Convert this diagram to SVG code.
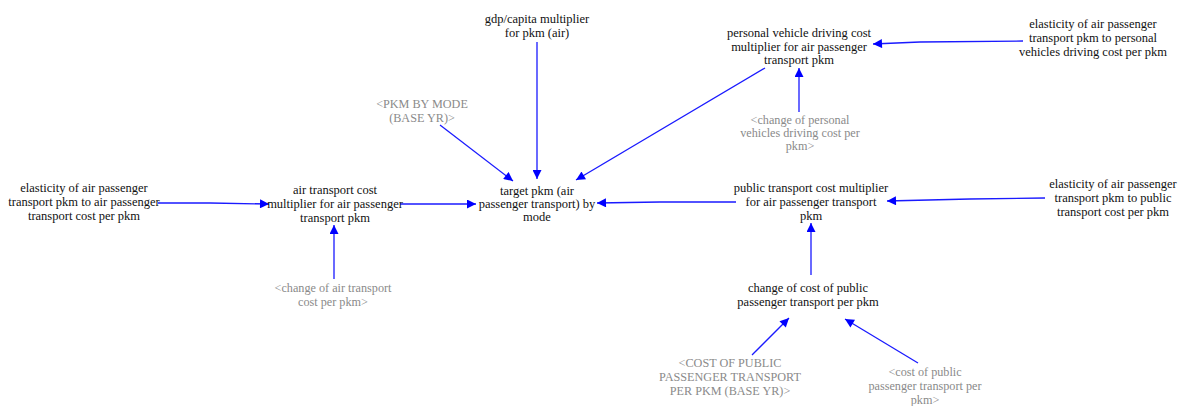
<svg xmlns="http://www.w3.org/2000/svg" width="1184" height="406" viewBox="0 0 1184 406">
  <style>
    .v { font-family: "Liberation Serif", "Times New Roman", serif; font-size: 12.5px; fill: #111; text-anchor: middle; }
    .s { font-family: "Liberation Serif", "Times New Roman", serif; font-size: 12.2px; fill: #8a8a8a; text-anchor: middle; }
    .c { fill: none; stroke: #1a1aff; stroke-width: 1.3; marker-end: url(#ah); }
  </style>
  <defs>
    <marker id="ah" viewBox="0 0 10 10" refX="10" refY="5" markerWidth="10" markerHeight="9" markerUnits="userSpaceOnUse" orient="auto">
      <path d="M0,0 L10,5 L0,10 z" fill="#0000ff"/>
    </marker>
  </defs>
  <rect width="1184" height="406" fill="#ffffff"/>

  <g id="connectors">
    <path class="c" d="M158,203 L210,203 L269,204"/>
    <path class="c" d="M400,204 L476,204"/>
    <path class="c" d="M736,202 L660,202 L597,203"/>
    <path class="c" d="M537,42 L537,179"/>
    <path class="c" d="M440,125 L513,181"/>
    <path class="c" d="M765,68 L576,180"/>
    <path class="c" d="M1023,41 L920,42 L873,44"/>
    <path class="c" d="M799,112 L799,68"/>
    <path class="c" d="M1045,198 L970,199 L887,201"/>
    <path class="c" d="M811,275 L811,223"/>
    <path class="c" d="M752,355 L789,318"/>
    <path class="c" d="M918,363 L845,319"/>
    <path class="c" d="M334,279 L334,225"/>
  </g>

  <g id="elasticity-air-cost">
    <text class="v" x="84" y="192">elasticity of air passenger</text>
    <text class="v" x="84" y="206">transport pkm to air passenger</text>
    <text class="v" x="84" y="220">transport cost per pkm</text>
  </g>
  <g id="air-transport-cost-multiplier">
    <text class="v" x="335" y="194">air transport cost</text>
    <text class="v" x="335" y="208">multiplier for air passenger</text>
    <text class="v" x="335" y="222">transport pkm</text>
  </g>
  <g id="target-pkm">
    <text class="v" x="537" y="195">target pkm (air</text>
    <text class="v" x="537" y="208">passenger transport) by</text>
    <text class="v" x="537" y="221">mode</text>
  </g>
  <g id="gdp-multiplier">
    <text class="v" x="537" y="23">gdp/capita multiplier</text>
    <text class="v" x="537" y="37">for pkm (air)</text>
  </g>
  <g id="pkm-by-mode-base">
    <text class="s" x="422" y="108">&lt;PKM BY MODE</text>
    <text class="s" x="422" y="122">(BASE YR)&gt;</text>
  </g>
  <g id="personal-vehicle-multiplier">
    <text class="v" x="799" y="37">personal vehicle driving cost</text>
    <text class="v" x="799" y="51">multiplier for air passenger</text>
    <text class="v" x="799" y="64">transport pkm</text>
  </g>
  <g id="elasticity-personal-vehicle">
    <text class="v" x="1093" y="28">elasticity of air passenger</text>
    <text class="v" x="1093" y="42">transport pkm to personal</text>
    <text class="v" x="1093" y="56">vehicles driving cost per pkm</text>
  </g>
  <g id="change-personal-vehicle-cost">
    <text class="s" x="800" y="124">&lt;change of personal</text>
    <text class="s" x="800" y="137">vehicles driving cost per</text>
    <text class="s" x="800" y="150">pkm&gt;</text>
  </g>
  <g id="public-transport-multiplier">
    <text class="v" x="811" y="192">public transport cost multiplier</text>
    <text class="v" x="811" y="206">for air passenger transport</text>
    <text class="v" x="811" y="220">pkm</text>
  </g>
  <g id="elasticity-public-transport">
    <text class="v" x="1113" y="188">elasticity of air passenger</text>
    <text class="v" x="1113" y="202">transport pkm to public</text>
    <text class="v" x="1113" y="216">transport cost per pkm</text>
  </g>
  <g id="change-public-cost">
    <text class="v" x="808" y="292">change of cost of public</text>
    <text class="v" x="808" y="306">passenger transport per pkm</text>
  </g>
  <g id="public-cost-base">
    <text class="s" x="730" y="367">&lt;COST OF PUBLIC</text>
    <text class="s" x="730" y="381">PASSENGER TRANSPORT</text>
    <text class="s" x="730" y="395">PER PKM (BASE YR)&gt;</text>
  </g>
  <g id="public-cost">
    <text class="s" x="925" y="376">&lt;cost of public</text>
    <text class="s" x="925" y="390">passenger transport per</text>
    <text class="s" x="925" y="404">pkm&gt;</text>
  </g>
  <g id="change-air-cost">
    <text class="s" x="333" y="292">&lt;change of air transport</text>
    <text class="s" x="333" y="306">cost per pkm&gt;</text>
  </g>
</svg>
